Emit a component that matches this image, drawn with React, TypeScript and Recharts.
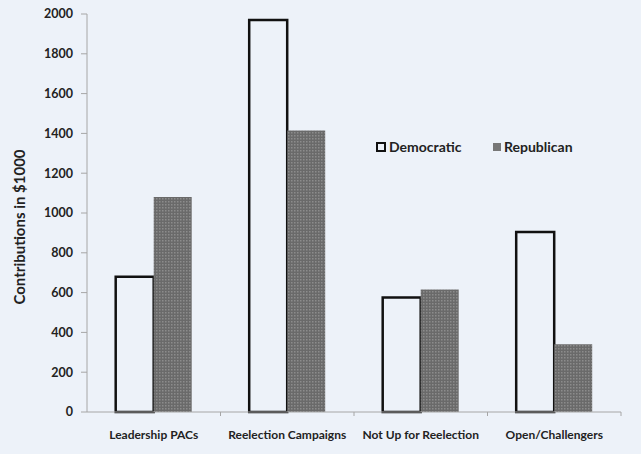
import * as React from "react";
import { Bar, BarChart, XAxis, YAxis } from "recharts";

const categories = [
  "Leadership PACs",
  "Reelection Campaigns",
  "Not Up for Reelection",
  "Open/Challengers",
];
const democratic = [680, 1970, 575, 905];
const republican = [1080, 1415, 615, 340];
const yTicks = [0, 200, 400, 600, 800, 1000, 1200, 1400, 1600, 1800, 2000];

const BG = "#edf2f9";
const FONT = "Lato, 'Open Sans', sans-serif";

const rows = categories.map((name, i) => ({
  name,
  Democratic: democratic[i],
  Republican: republican[i],
}));

// category labels plus Excel-style tick marks between the categories
function CategoryTick(props: any) {
  const { x, y, payload, width, visibleTicksCount } = props;
  const half = width / (2 * visibleTicksCount);
  return (
    <g>
      <line x1={x + half} x2={x + half} y1={y - 18} y2={y - 14} stroke="#a6a6a6" />
      <text
        x={x}
        y={y}
        dy="0.71em"
        textAnchor="middle"
        fill="#222"
        fontFamily={FONT}
        fontWeight={700}
        fontSize={12}
      >
        {payload.value}
      </text>
    </g>
  );
}

function LegendBox() {
  const text = { fontFamily: FONT, fontWeight: 700, fontSize: 14, fill: "#222" };
  return (
    <svg width={220} height={20} style={{ position: "absolute", top: 138, left: 375 }}>
      <rect x={2} y={5} width={8} height={8} fill={BG} stroke="#111" strokeWidth={2} />
      <text x={14} y={14} {...text}>Democratic</text>
      <rect x={118} y={5} width={8} height={8} fill="#777" />
      <text x={129} y={14} {...text}>Republican</text>
    </svg>
  );
}

export default function App() {
  return (
    <div
      style={{
        position: "fixed",
        top: 0,
        left: 0,
        width: 641,
        height: 454,
        background: BG,
      }}
    >
      <BarChart
        width={641}
        height={454}
        data={rows}
        margin={{ top: 14, right: 20, left: 0, bottom: 12 }}
        barCategoryGap="21.5%"
        barGap={0}
      >
        <defs>
          <pattern id="repDots" width={3} height={3} patternUnits="userSpaceOnUse">
            <rect width={3} height={3} fill="#6a6a6a" />
            <rect width={1.5} height={1.5} fill="#8c8c8c" />
          </pattern>
        </defs>
        <XAxis
          dataKey="name"
          height={30}
          axisLine={{ stroke: "#a6a6a6" }}
          tickLine={false}
          tickMargin={12}
          interval={0}
          tick={<CategoryTick />}
        />
        <YAxis
          width={87}
          domain={[0, 2000]}
          ticks={yTicks}
          interval={0}
          axisLine={{ stroke: "#a6a6a6" }}
          tickLine={{ stroke: "#a6a6a6" }}
          tickSize={6}
          tickMargin={8}
          tick={{ fill: "#222", fontFamily: FONT, fontWeight: 700, fontSize: 12.5 }}
          label={{
            value: "Contributions in $1000",
            angle: -90,
            position: "insideLeft",
            offset: 20,
            dy: 14,
            style: {
              textAnchor: "middle",
              fill: "#222",
              fontFamily: FONT,
              fontWeight: 700,
              fontSize: 15,
            },
          }}
        />
        <Bar
          dataKey="Democratic"
          fill={BG}
          stroke="#111"
          strokeWidth={2.5}
          isAnimationActive={false}
        />
        <Bar dataKey="Republican" fill="url(#repDots)" isAnimationActive={false} />
      </BarChart>
      <LegendBox />
    </div>
  );
}
